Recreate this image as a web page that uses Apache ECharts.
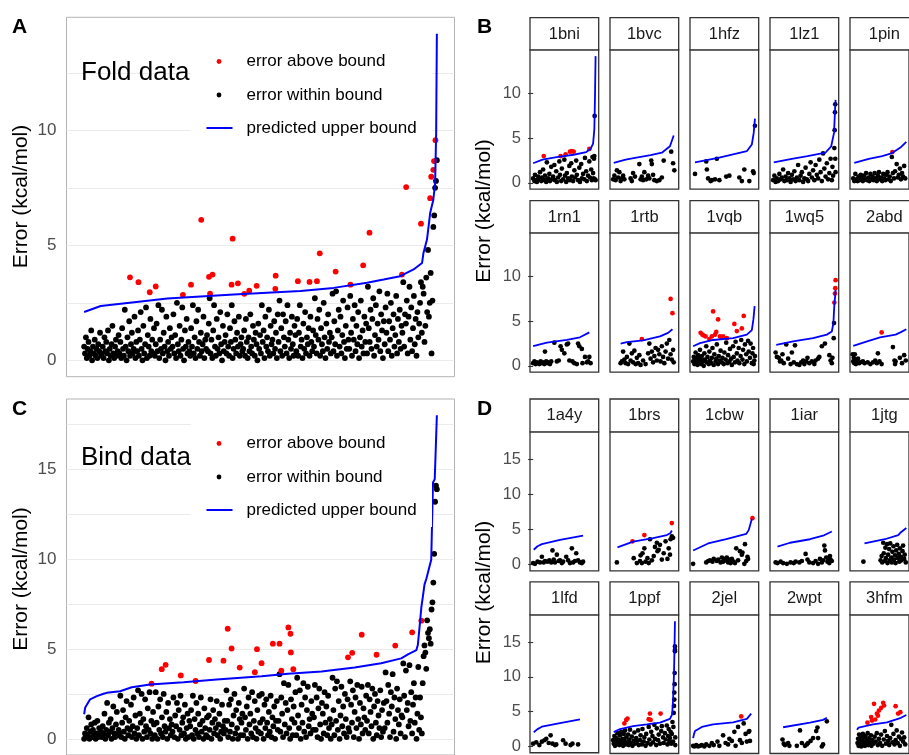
<!DOCTYPE html>
<html>
<head>
<meta charset="utf-8">
<script src="https://cdn.jsdelivr.net/npm/echarts@6/dist/echarts.min.js"></script>
<style>
  html, body { margin: 0; padding: 0; background: #ffffff; }
  #chart { width: 909px; height: 755px; }
</style>
</head>
<body>
<div id="chart"></div>
<script>
// ---------------------------------------------------------------------------
// Data. x = percentile rank of the predicted upper bound (0-100),
// y = absolute error in kcal/mol.
// ---------------------------------------------------------------------------

// Fold data, all proteins: errors within the bound, in rank order
const foldWithin = [
  0.6,0.3,1.0,0.1,0.5,0.8,0.2,0.4,1.3,0.0,0.6,0.3,0.9,0.2,0.5,0.1,0.7,0.4,1.2,0.3,
  0.2,0.6,0.1,1.0,0.4,0.8,0.3,1.3,0.0,0.5,0.2,0.7,1.5,0.3,0.1,0.6,0.9,0.2,0.4,1.1,
  0.3,0.8,0.1,1.4,0.5,0.2,2.2,0.6,0.0,1.0,0.4,1.7,0.2,0.7,1.2,0.3,0.5,1.9,0.1,0.8,
  0.4,1.3,0.2,0.9,2.1,0.5,0.0,1.5,0.3,0.7,2.3,0.1,1.1,0.6,0.2,1.8,0.4,0.9,0.3,1.4,
  0.2,0.7,1.6,0.4,2.4,0.1,0.9,0.5,2.2,0.3,1.2,0.6,0.0,1.9,0.4,0.8,0.2,1.4,0.5,1.0,
  0.6,2.0,0.3,1.1,0.1,2.5,0.7,0.4,1.5,0.2,0.9,2.3,0.5,0.0,1.3,0.6,1.8,0.3,0.8,0.4,
  0.2,1.4,0.6,2.4,0.3,1.0,0.1,1.7,0.5,2.2,0.8,0.2,1.2,0.4,0.7,1.9,0.1,0.9,0.5,1.1,
  0.4,1.6,2.7,0.3,0.9,0.1,1.3,2.4,0.6,0.2,1.8,0.5,1.0,0.3,2.1,0.7,0.0,1.5,0.4,0.8,
  1.1,0.3,2.0,0.6,0.2,1.4,0.8,2.4,0.1,0.5,1.7,0.9,0.3,1.2,0.6,1.9,0.2,0.7,1.0,0.4,
  0.5,1.3,0.2,1.8,0.8,0.1,1.0,0.4,2.0,0.6,0.3,1.5,0.9,0.2,1.2,0.7,0.0,1.6,0.5,1.1,
  0.3,2.4,0.8,1.3,0.1,1.9,0.6,1.0,0.4,2.2,0.2,1.5,0.7,0.9,0.3,1.7,0.5,1.2,0.1,2.0,
  0.8,2.6,0.4,1.4,0.2,2.0,1.0,0.6,1.7,0.3,2.4,0.9,0.1,1.2,0.5,1.9,0.7,0.2,1.5,1.1,
  0.4,1.8,0.2,1.2,2.4,0.6,0.9,0.1,1.6,0.5,2.1,0.3,1.0,0.7,1.4,0.2,1.9,0.8,0.4,1.3,
  0.6,2.7,1.1,0.3,1.8,0.9,2.2,0.2,1.4,0.7,0.4,2.5,1.0,0.1,1.6,0.5,2.0,0.8,1.2,0.3,
  1.0,2.9,0.4,1.7,0.7,3.0,0.2,1.3,2.2,0.6,1.9,0.3,1.1,2.6,0.8,0.1,1.5,0.5,2.3,0.9,
  0.5,2.8,1.2,0.2,1.8,0.9,2.4,0.4,1.5,0.7,2.1,0.1,1.0,2.6,0.6,1.3,0.3,1.9,0.8,1.6,
  0.3,3.2,1.4,0.8,2.2,0.5,1.8,2.7,0.2,1.1,2.4,0.6,1.6,0.9,3.0,0.4,2.0,1.3,0.1,1.7,
  0.7,2.3,1.2,2.9,0.4,1.7,0.9,2.5,0.2,1.4,2.0,0.6,1.1,2.8,0.3,1.8,0.8,2.2,0.5,1.5,
  1.2,3.4,0.6,2.0,1.6,2.6,0.3,1.9,3.2,0.9,2.3,0.4,1.4,2.8,0.7,1.8,0.2,2.1,1.0,1.6,
  2.5,3.4,1.2,3.2,2.9,0.8,1.5,3.6,2.1,4.8,1.9,2.5,3.8,0.3,2.6,5.8,6.3,7.5,7.8,8.7
];
// Fold data: errors above the bound [rank, error]
const foldAbove = [
  [13.0,3.61],[15.4,3.40],[18.6,2.96],[20.3,3.21],[28.0,2.85],[30.3,3.29],[33.2,6.11],
  [35.4,3.63],[35.7,2.90],[36.4,3.73],[41.8,3.29],[42.1,5.29],[43.6,3.35],[45.4,2.89],
  [46.8,3.03],[48.9,3.24],[54.2,3.11],[54.3,3.68],[60.6,3.44],[63.9,3.41],[66.0,3.44],
  [66.8,4.65],[71.3,3.86],[75.5,3.29],[79.1,4.13],[80.9,5.55],[90.1,3.73],[91.3,7.53],
  [95.5,5.94],[98.1,7.05],[98.4,7.98],[99.0,8.28],[99.2,8.66],[99.6,9.57]
];
// Fold data: predicted upper bound [rank, bound]
const foldBound = [
  [0,2.10],[4.7,2.36],[14.2,2.53],[23.6,2.69],[42.4,2.86],[61.3,3.01],[70.7,3.15],
  [80.2,3.37],[84.9,3.51],[89.6,3.66],[93.4,3.95],[95.8,4.23],[96.2,4.67],[97.2,5.25],
  [98.1,6.40],[99.0,6.98],[99.5,7.70],[99.8,9.87],[100,14.2]
];

// Bind data, all complexes: errors within the bound, in rank order
const bindWithin = [
  0.0,0.3,0.1,0.6,0.2,1.2,0.0,0.4,0.8,0.1,0.5,0.2,0.9,0.0,0.3,1.0,0.1,0.6,0.2,0.4,
  0.1,0.7,0.3,1.4,0.0,0.5,2.0,0.2,0.9,0.4,1.1,0.0,0.6,1.8,0.3,0.1,0.8,1.5,0.2,0.5,
  0.3,2.4,0.1,0.9,1.6,0.4,0.0,1.2,2.1,0.6,0.2,1.0,0.5,1.9,0.1,0.7,2.3,0.3,1.3,0.0,
  0.6,2.7,0.2,1.4,0.9,2.5,0.0,1.1,0.4,2.2,0.7,0.1,1.7,0.5,2.6,0.3,1.0,0.0,1.5,0.8,
  0.2,2.6,0.9,0.0,1.8,0.5,2.2,0.3,1.2,0.1,2.5,0.7,0.4,1.5,0.0,2.0,0.6,1.1,0.2,0.8,
  0.4,2.3,0.1,1.3,0.7,2.0,0.0,1.6,0.5,2.4,0.2,0.9,1.2,0.3,1.9,0.0,0.6,1.4,0.1,1.0,
  0.7,1.6,0.2,2.4,0.0,1.1,0.5,2.0,0.3,1.4,0.1,0.8,2.3,0.4,1.0,0.0,1.7,0.6,0.2,1.2,
  0.1,1.3,0.5,2.2,0.0,0.9,1.6,0.3,1.1,0.6,2.1,0.2,0.8,1.4,0.0,0.4,1.9,0.7,0.3,1.0,
  0.5,2.7,1.0,0.1,1.9,0.4,2.2,0.8,0.0,1.3,2.5,0.3,1.6,0.6,0.0,2.0,1.1,0.2,0.9,1.4,
  0.2,2.8,1.2,0.5,1.8,0.0,2.3,0.8,1.4,0.3,2.6,0.1,1.0,2.1,0.6,0.0,1.6,0.4,2.4,0.9,
  0.3,2.5,1.1,0.0,1.9,0.6,2.2,0.9,0.2,1.5,0.4,2.4,0.1,1.2,0.7,1.8,0.0,1.0,2.1,0.5,
  1.0,3.6,0.4,2.3,1.4,0.1,3.1,0.8,2.0,0.3,1.6,3.0,0.6,0.0,2.2,1.1,0.2,1.8,0.9,2.6,
  0.2,3.4,1.3,0.6,2.7,0.0,1.9,0.9,3.1,0.4,2.3,0.1,1.6,2.9,0.7,1.1,0.3,2.1,1.4,0.5,
  1.2,3.0,0.5,2.3,0.1,1.7,2.8,0.8,0.0,2.0,1.4,0.3,2.6,0.9,1.8,0.2,2.4,0.6,1.1,0.0,
  0.8,3.4,1.6,0.2,2.8,1.0,3.2,0.5,2.1,0.0,1.3,2.9,0.7,1.8,0.3,2.5,1.1,0.1,2.2,0.6,
  0.4,3.2,1.9,0.9,2.7,0.1,1.5,2.3,0.6,3.0,1.1,0.0,2.0,0.8,2.9,0.3,1.7,1.2,0.5,2.4,
  1.0,3.0,0.3,2.2,1.5,0.7,2.8,0.0,1.8,2.5,0.9,0.2,2.1,1.3,0.6,2.7,0.1,1.6,0.4,2.0,
  0.6,3.7,2.1,0.9,3.0,1.4,0.1,2.6,1.8,3.6,0.4,2.3,1.1,0.0,2.8,1.6,0.8,2.2,0.3,1.3,
  1.2,4.2,2.4,0.1,3.8,1.6,2.0,0.7,4.1,1.0,2.6,0.3,1.9,3.1,0.9,2.3,0.0,1.4,4.0,0.5,
  2.3,1.2,0.3,3.1,4.6,5.2,4.8,3.9,6.6,5.9,5.6,6.1,5.3,7.2,7.6,8.7,10.3,13.2,14.1,13.9
];
// Bind data: errors above the bound [rank, error]
const bindAbove = [
  [19.1,3.07],[22.0,3.88],[23.1,4.12],[27.4,3.53],[31.6,3.22],[35.4,4.39],[39.5,4.35],
  [40.7,6.13],[41.8,5.03],[44.1,3.97],[48.4,3.71],[49.0,4.99],[50.3,4.21],[53.5,5.30],
  [55.4,5.30],[55.9,3.79],[57.9,6.20],[58.5,5.85],[58.6,4.81],[59.3,3.88],[74.8,4.54],
  [76.0,4.79],[78.7,5.80],[82.9,4.68],[88.2,5.19],[93.0,5.93],[95.6,6.58]
];
// Bind data: predicted upper bound [rank, bound]
const bindBound = [
  [0,1.37],[0.3,1.74],[1.7,2.20],[3.6,2.38],[5.5,2.51],[6.4,2.56],[10.2,2.65],[13.5,2.87],
  [18.7,3.02],[28.2,3.15],[37.6,3.30],[50.3,3.48],[57.8,3.63],[67.3,3.75],[76.7,3.97],
  [84.2,4.21],[89.9,4.48],[91.8,4.70],[94.2,4.94],[94.6,5.22],[95.1,6.23],[95.6,7.32],
  [96.0,7.87],[96.5,8.6],[97.0,8.9],[98.4,9.97],[98.9,14.27],[99.4,14.45],[100,18.02]
];

// Per-protein fold panels
const foldIds = ['1bni','1bvc','1hfz','1lz1','1pin','1rn1','1rtb','1vqb','1wq5','2abd'];
const foldFacetWithin = [
  [[0,0.5],[2,0.2],[3,0.9],[5,0.3],[6,0.1],[8,0.7],[10,0.4],[11,1.2],[13,0.2],[14,0.6],[16,1.5],[18,0.3],[19,0.8],[21,0.1],[22,2.3],[24,0.5],[26,1.0],[27,0.2],[29,1.8],[30,0.4],[32,0.7],[34,2.0],[35,0.3],[37,1.3],[38,0.1],[40,0.6],[42,2.4],[43,0.9],[45,0.2],[46,1.6],[48,0.4],[50,2.6],[51,0.8],[53,0.1],[54,1.1],[56,0.5],[58,1.9],[59,0.3],[61,2.2],[62,0.7],[64,0.2],[66,1.4],[67,0.6],[69,2.5],[70,0.9],[72,0.3],[74,1.7],[75,0.1],[77,2.1],[78,0.5],[80,1.0],[82,0.4],[83,2.8],[85,1.3],[86,0.2],[88,0.8],[90,2.4],[91,0.6],[93,1.5],[94,0.3],[95,2.9],[96,1.1],[97,0.5],[97.5,2.7],[98,3.0],[98.5,7.5],[99,0.4],[100,0.3]],
  [[0,0.4],[2,0.8],[4,0.3],[6,1.4],[8,0.6],[10,1.2],[12,0.2],[14,0.5],[16,0.8],[18,0.4],[28,0.5],[30,0.2],[32,1.1],[35,0.7],[42,2.1],[44,0.4],[46,0.7],[48,0.3],[50,1.2],[53,0.4],[56,0.8],[58,0.5],[61,2.5],[62,2.1],[64,0.9],[66,0.3],[70,0.2],[74,0.3],[78,0.6],[81,2.5],[93,3.5],[96,2.2],[98,1.4]],
  [[3,1.0],[21,2.4],[22,1.5],[24,0.5],[28,0.2],[30,0.3],[35,0.4],[38,2.7],[42,0.3],[53,0.7],[58,0.8],[74,0.6],[78,0.2],[82,1.5],[90,0.2],[96,1.3],[97,1.1],[99,6.4]],
  [[0,0.3],[2,0.8],[4,0.1],[6,0.5],[8,0.2],[10,1.0],[12,0.4],[14,0.6],[16,1.5],[18,0.2],[20,0.7],[22,0.3],[24,1.1],[26,0.5],[28,0.1],[30,0.9],[32,0.4],[34,1.3],[36,0.2],[38,0.6],[40,2.0],[42,0.3],[44,0.8],[46,1.2],[48,0.1],[50,0.5],[52,1.7],[54,0.4],[56,0.2],[58,1.0],[60,2.3],[62,0.6],[64,1.4],[66,0.3],[68,2.0],[70,0.9],[72,0.5],[74,2.6],[76,1.2],[78,0.2],[80,3.3],[82,1.6],[84,0.7],[86,2.2],[88,0.4],[90,1.1],[92,2.7],[94,0.3],[95,1.8],[96,0.8],[98,3.9],[98.5,5.9],[99,7.9],[99.5,8.8],[99.5,2.7],[100,1.2]],
  [[1,0.5],[3,0.2],[5,1.0],[7,0.4],[9,0.2],[11,0.7],[13,0.3],[15,0.9],[17,0.5],[19,0.2],[21,0.8],[23,0.4],[25,1.1],[27,0.3],[29,0.6],[31,0.2],[33,1.0],[35,0.4],[37,0.7],[39,0.3],[41,1.1],[43,0.5],[45,0.2],[47,0.8],[49,1.2],[51,0.4],[53,0.6],[55,0.2],[57,1.0],[59,0.5],[61,0.3],[63,0.9],[65,1.2],[67,0.4],[69,0.7],[71,0.2],[73,2.9],[75,1.1],[77,0.5],[79,1.3],[82,2.1],[84,0.6],[86,0.9],[88,1.6],[90,0.4],[92,1.1],[94,0.7],[96,1.9],[98,0.5]],
  [[0,0.3],[2,0.5],[4,0.2],[6,0.4],[8,0.3],[10,0.2],[12,0.5],[14,0.3],[16,0.4],[18,0.2],[19,1.6],[21,0.5],[23,0.3],[25,0.4],[27,0.2],[29,0.5],[34,2.6],[38,0.5],[41,0.6],[44,2.2],[46,1.8],[50,1.4],[54,2.4],[56,2.5],[58,0.6],[63,0.5],[66,0.3],[70,0.2],[72,2.5],[74,2.2],[78,1.9],[79,0.3],[83,1.0],[86,0.4],[88,0.5],[90,1.0],[92,0.3]],
  [[12,0.3],[14,0.5],[16,1.6],[18,0.7],[20,0.3],[22,1.0],[24,0.2],[26,2.5],[28,0.6],[30,1.4],[32,0.4],[34,1.7],[36,0.2],[38,0.9],[40,0.3],[42,1.2],[44,0.1],[48,0.6],[52,0.2],[56,1.4],[58,2.5],[60,0.8],[62,1.6],[64,0.4],[66,1.1],[68,2.0],[70,0.6],[72,1.8],[74,1.3],[76,0.5],[78,2.2],[80,1.0],[82,0.3],[84,1.6],[86,2.5],[88,0.8],[90,2.9],[92,1.3],[94,0.7],[96,1.8],[97,0.4]],
  [[0,0.5],[1,1.0],[2,0.2],[3,0.7],[4,1.5],[5,0.3],[6,0.9],[7,0.1],[8,1.2],[9,0.6],[10,0.3],[11,1.8],[12,0.8],[13,0.2],[14,1.1],[16,0.5],[17,0.0],[18,1.4],[19,0.7],[21,2.2],[22,0.4],[23,1.0],[25,0.2],[26,1.6],[27,0.6],[29,0.3],[30,0.9],[31,2.0],[33,0.1],[34,1.3],[36,0.5],[37,0.8],[38,2.4],[40,0.2],[41,1.1],[43,0.6],[44,1.7],[46,0.4],[47,0.9],[49,0.2],[50,1.5],[52,0.7],[53,2.6],[55,0.3],[56,1.2],[58,0.5],[59,1.9],[61,0.8],[62,0.1],[64,2.2],[65,1.0],[67,0.4],[68,2.7],[70,1.4],[71,0.6],[73,2.0],[74,0.3],[76,1.1],[77,2.9],[79,0.7],[80,1.8],[82,0.2],[83,2.4],[85,1.3],[86,0.5],[88,2.8],[89,1.6],[91,0.9],[92,2.5],[94,0.3],[95,1.4],[96,2.0],[97,0.2],[98,0.6],[99,1.1]],
  [[4,1.5],[6,1.0],[9,0.9],[11,0.5],[13,0.6],[15,1.3],[17,0.3],[21,2.4],[24,0.8],[28,0.2],[30,1.5],[33,0.4],[35,2.3],[38,0.2],[42,0.1],[45,0.4],[48,0.6],[50,0.2],[53,0.5],[55,0.9],[58,0.3],[62,0.5],[66,0.2],[68,0.6],[72,0.8],[74,1.0],[78,2.2],[83,2.5],[90,1.2],[92,0.6],[94,0.3],[95,0.9],[97,3.1],[97.5,4.8]],
  [[0,1.3],[1,0.5],[2,0.9],[3,0.3],[4,1.3],[5,0.6],[6,0.2],[8,0.5],[10,0.8],[12,0.3],[14,0.4],[19,0.5],[22,0.3],[28,0.4],[33,0.2],[38,0.4],[42,0.6],[45,0.3],[47,1.4],[50,0.5],[54,0.2],[75,2.1],[78,0.6],[79,0.2],[80,0.5],[88,0.9],[92,0.3],[96,1.2],[99,0.6]]
];
const foldFacetAbove = [
  [[17,3.0],[44,3.0],[52,3.2],[59,3.5],[62,3.55],[65,3.5],[90,3.8]],
  [],
  [],
  [],
  [[74,3.45]],
  [],
  [[46,3.0],[92,7.5],[95,5.9]],
  [[12,3.7],[15,3.5],[17,3.4],[20,3.3],[26,3.0],[30,3.3],[32,6.1],[35,3.5],[37,3.8],[40,5.2],[43,3.3],[46,3.2],[48,3.3],[54,3.1],[66,4.7],[70,3.9],[78,4.2],[81,5.6]],
  [[98,7.1],[99,8.1],[99.5,8.7],[100,9.6]],
  [[54,3.75]]
];
const foldFacetBound = [
  [[0,2.2],[15,2.6],[40,2.9],[65,3.15],[85,3.45],[92,3.8],[96,4.4],[98,6.0],[99,9.4],[100,14.2]],
  [[1,2.25],[20,2.6],[35,2.8],[60,3.1],[78,3.38],[91,4.1],[97,5.3]],
  [[3,2.3],[40,2.8],[86,3.55],[94,4.3],[97,5.6],[99,7.2]],
  [[1,2.3],[30,2.7],[55,3.0],[84,3.4],[93,4.1],[97.5,5.6],[99,8.0],[100,9.3]],
  [[3,2.25],[30,2.7],[55,3.0],[72,3.3],[89,3.95],[100,4.6]],
  [[0,2.2],[22,2.6],[54,2.9],[75,3.2],[90,3.75]],
  [[12,2.5],[22,2.65],[48,2.85],[75,3.3],[88,3.7],[95,4.1]],
  [[0,2.2],[11,2.55],[32,2.9],[64,3.1],[86,3.5],[94,4.0],[96.5,5.2],[98.5,6.7]],
  [[5,2.35],[32,2.75],[64,3.1],[86,3.5],[94,3.85],[96.5,4.8],[98,6.8],[99.5,8.0],[100,8.5]],
  [[1,2.25],[27,2.75],[51,3.2],[80,3.5],[89,3.75],[100,4.1]]
];

// Per-complex bind panels
const bindIds = ['1a4y','1brs','1cbw','1iar','1jtg','1lfd','1ppf','2jel','2wpt','3hfm'];
const bindFacetWithin = [
  [[0,0.2],[3,0.1],[7,0.4],[11,0.3],[14,1.1],[17,0.3],[19,0.5],[23,0.4],[26,0.6],[29,0.3],[31,2.0],[33,0.7],[35,0.3],[38,1.4],[41,0.5],[43,0.6],[46,0.2],[48,0.4],[53,1.1],[56,0.6],[59,0.2],[62,2.3],[64,0.3],[67,0.5],[69,1.6],[72,0.6],[75,0.3],[78,0.2],[80,0.4]],
  [[6,0.3],[33,0.9],[38,0.2],[43,0.5],[44,1.3],[46,0.2],[47,1.6],[50,2.3],[52,0.4],[55,0.9],[57,0.2],[59,3.6],[62,0.6],[65,1.2],[67,2.5],[70,3.1],[71,1.9],[73,2.1],[75,2.8],[78,0.7],[81,1.6],[84,3.3],[87,0.8],[89,2.3],[91,1.4],[92,3.6],[94,4.0],[96,3.8]],
  [[0,0.1],[21,0.3],[24,0.5],[27,0.6],[31,0.4],[33,0.8],[38,0.5],[40,0.7],[44,0.3],[46,1.0],[48,0.4],[50,0.8],[52,0.6],[54,1.0],[56,0.3],[58,0.7],[60,0.2],[62,0.8],[65,0.4],[67,0.2],[69,2.3],[72,0.6],[75,1.9],[78,1.4],[79,1.7],[82,0.1],[83,2.9],[85,0.5],[87,1.1],[88,0.8]],
  [[4,0.3],[7,0.2],[12,0.4],[16,0.2],[22,0.1],[28,0.3],[33,0.2],[36,0.4],[42,0.3],[46,0.5],[52,1.5],[55,0.7],[58,0.3],[64,0.2],[68,0.5],[72,0.1],[75,0.8],[78,0.3],[80,0.6],[82,2.7],[83,2.0],[85,1.0],[87,0.4],[88,0.9],[90,0.2],[91,1.2],[92,0.7],[94,0.5]],
  [[20,0.4],[52,0.6],[54,1.2],[55,0.3],[57,3.1],[58,1.6],[60,0.5],[61,2.4],[62,0.9],[64,2.9],[65,0.2],[66,1.4],[68,2.2],[69,0.6],[70,3.0],[72,1.0],[73,0.3],[74,1.8],[76,2.6],[77,0.7],[79,1.3],[80,0.2],[81,2.0],[83,2.8],[84,0.9],[86,1.5],[87,0.4],[88,2.3],[90,1.1],[91,0.6],[93,1.9],[94,2.7],[96,0.8],[97,1.4],[99,0.3]],
  [[0,0.4],[5,0.6],[10,0.2],[14,0.7],[18,0.9],[21,1.1],[25,0.5],[28,1.6],[31,0.4],[35,0.2],[37,0.3],[48,0.9],[52,0.4],[60,0.2],[63,0.4],[72,0.3]],
  [[0,1.0],[1,0.5],[2,1.6],[3,0.2],[4,0.9],[5,1.3],[6,0.4],[7,2.0],[8,0.7],[9,1.1],[10,0.3],[11,1.7],[12,0.8],[13,2.2],[14,0.5],[15,1.2],[16,0.2],[17,1.9],[18,0.9],[19,2.4],[20,0.4],[21,1.4],[22,0.7],[24,1.8],[25,0.3],[26,1.1],[27,2.5],[28,0.6],[30,1.5],[31,0.2],[33,0.9],[34,2.1],[35,0.5],[37,1.3],[38,0.8],[40,2.4],[41,0.3],[43,1.0],[44,1.7],[46,0.4],[47,2.6],[49,0.8],[50,1.4],[52,0.2],[53,1.9],[55,0.6],[57,2.9],[58,1.1],[60,0.4],[61,2.2],[63,1.6],[64,0.7],[66,3.2],[67,1.2],[69,0.3],[70,2.7],[72,1.0],[73,1.8],[75,0.5],[77,2.3],[78,3.0],[80,1.4],[81,0.6],[83,2.0],[84,1.1],[86,3.1],[87,0.4],[88,1.6],[89,2.6],[90,0.9],[91,1.3],[92,2.2],[93,0.5],[94,1.9],[95,3.6],[96,0.8],[96.5,2.9],[97,4.9],[97.5,5.9],[98,6.8],[98,7.8],[98.5,9.0],[98.5,10.6],[99,13.7],[99,13.9],[99,14.4],[99.5,1.4],[99.5,0.3]],
  [[0,0.2],[2,0.1],[5,0.3],[8,0.1],[11,0.2],[14,0.3],[18,0.1],[21,0.4],[26,0.2],[30,0.6],[33,0.3],[39,0.8],[42,0.2],[48,1.7],[52,0.6],[56,0.4],[58,1.2],[62,0.9],[66,2.2],[68,0.2],[72,2.9],[75,1.0],[78,0.6],[81,3.4],[84,1.9],[86,0.8],[89,2.2],[90,2.3],[91,0.9]],
  [[15,1.1],[17,0.5],[19,0.3],[24,0.6],[26,0.2],[38,0.2],[43,2.4],[46,0.6],[51,0.2],[54,0.4],[56,0.6],[60,0.9],[64,1.3],[69,2.3],[71,2.8],[72,1.3],[78,0.1],[80,0.4],[86,3.7]],
  [[9,0.6],[10,1.2],[11,0.2],[12,1.8],[13,0.9],[14,0.4],[15,1.5],[16,0.1],[17,1.1],[18,0.6],[19,1.9],[20,0.3],[21,1.4],[22,0.8],[23,0.2],[24,1.6],[25,0.5],[27,1.0],[28,2.0],[29,0.3],[31,1.3],[32,0.7],[34,1.7],[35,0.2],[37,1.0],[39,0.5],[41,1.5],[43,0.8],[45,2.0],[47,0.3],[49,1.2],[51,0.6],[53,1.8],[55,0.2],[58,1.1],[60,2.3],[62,0.5],[64,1.6],[66,0.9],[68,0.3],[70,1.3],[72,3.2],[74,0.7],[76,1.9],[78,0.4],[80,1.0],[82,2.4],[84,0.6],[86,1.5],[88,0.2],[90,1.2],[92,2.1],[94,0.8],[96,1.4],[98,0.4]]
];
const bindFacetAbove = [
  [],
  [[31,3.3],[50,4.2],[94,5.9]],
  [[95,6.6]],
  [],
  [],
  [],
  [[18,3.4],[21,3.9],[23,4.1],[57,4.0],[59,4.8],[60,3.9],[76,4.8]],
  [[77,4.4]],
  [],
  [[27.5,3.5],[34.4,4.3],[36,3.8],[39.8,6.2],[42,3.96],[45.2,4.8],[47,4.5],[48.9,5.24],[53.2,5.62],[56.9,6.34],[58.5,5.96],[80,5.86],[84.7,4.8],[88.9,5.0]]
];
const bindFacetBound = [
  [[1,2.1],[7,2.6],[14,2.9],[43,3.5],[80,4.1]],
  [[7,2.45],[32,3.25],[64,3.75],[86,4.2],[92,4.5],[94,4.85]],
  [[0,2.0],[24,3.0],[53,3.6],[85,4.35],[89,4.9],[94,6.5]],
  [[7,2.55],[27,3.1],[59,3.6],[80,4.1],[94,4.7]],
  [[22,3.0],[60,3.6],[85,4.2],[90,4.6],[100,5.2]],
  [[1,2.05],[7,2.5],[14,2.85],[43,3.35],[75,3.9]],
  [[1,2.15],[11,2.6],[32,3.0],[54,3.25],[75,3.5],[91,4.05],[94.5,4.7],[96,6.8],[97.5,10.6],[99,18]],
  [[0,1.3],[1.5,1.9],[3,2.3],[14,2.9],[32,3.25],[64,3.55],[86,4.05],[93,4.8]],
  [[16,2.85],[59,3.5],[80,3.9],[86,4.2]],
  [[8,2.5],[11,2.8],[38,3.25],[64,3.55],[90,4.2],[100,4.6]]
];

// Axis breaks
const foldRange = [-0.71, 14.91];
const bindRange = [-0.9, 18.92];
const foldLabels = [0, 5, 10];
const bindLabels = [0, 5, 10, 15];
const foldGridLines = [0, 2.5, 5, 7.5, 10, 12.5];
const bindGridLines = [0, 2.5, 5, 7.5, 10, 12.5, 15, 17.5];

// ---------------------------------------------------------------------------
// Layout and drawing
// ---------------------------------------------------------------------------
const FONT = '"Liberation Sans", Arial, Helvetica, sans-serif';
const RED = '#FF0000', BLACK = '#000000', BLUE = '#0000FF';

const grids = [], xAxes = [], yAxes = [], series = [], graphic = [];

function addPanel(p) {
  const gi = grids.length;
  grids.push({
    left: p.left, top: p.top, width: p.width, height: p.height,
    show: true, borderColor: p.border, borderWidth: p.borderWidth,
    backgroundColor: 'rgba(0,0,0,0)'
  });
  xAxes.push({ type: 'value', gridIndex: gi, min: -5, max: 105, show: false });
  yAxes.push({
    type: 'value', gridIndex: gi, min: p.range[0], max: p.range[1],
    axisLine: { show: false },
    axisTick: { show: p.ticks, length: 5, inside: false,
      lineStyle: { color: '#333333', width: 1.1 }, customValues: p.tickValues },
    axisLabel: { show: p.labels, customValues: p.labelValues, fontSize: p.labelSize,
      color: '#4D4D4D', margin: p.labelMargin, fontFamily: FONT },
    splitLine: { show: p.gridLines, lineStyle: { color: '#EBEBEB', width: 1 } }
  });
  series.push({
    type: 'scatter', xAxisIndex: gi, yAxisIndex: gi, data: p.within,
    symbol: 'circle', symbolSize: p.dot, itemStyle: { color: BLACK, opacity: 1 },
    silent: true, z: 2
  });
  series.push({
    type: 'scatter', xAxisIndex: gi, yAxisIndex: gi, data: p.above,
    symbol: 'circle', symbolSize: p.dot, itemStyle: { color: RED, opacity: 1 },
    silent: true, z: 3
  });
  series.push({
    type: 'line', xAxisIndex: gi, yAxisIndex: gi, data: p.bound,
    showSymbol: false, symbol: 'none', lineStyle: { color: BLUE, width: p.lineWidth },
    silent: true, z: 4
  });
}

const rankPairs = vals => vals.map((v, i) => [i * 100 / (vals.length - 1), v]);

// Large panels A and C
function bigPanel(top, height, range, within, above, bound, gridVals, labelVals) {
  addPanel({
    left: 66.5, top: top, width: 388, height: height, range: range,
    border: '#B3B3B3', borderWidth: 1,
    ticks: false, tickValues: gridVals, labels: true, labelValues: labelVals,
    labelSize: 17, labelMargin: 10, gridLines: true,
    within: rankPairs(within), above: above, bound: bound, dot: 5.8, lineWidth: 2
  });
}
bigPanel(17.3, 359.4, foldRange, foldWithin, foldAbove, foldBound, foldGridLines, foldLabels);
bigPanel(399, 360.7, bindRange, bindWithin, bindAbove, bindBound, bindGridLines, bindLabels);

// Faceted panels B and D
function facets(ids, within, above, bound, rows, range, labelVals) {
  ids.forEach((id, k) => {
    const row = rows[Math.floor(k / 5)];
    const col = k % 5;
    const left = 530 + 80 * col;
    const w = 68.7;
    addPanel({
      left: left, top: row.top, width: w, height: row.bottom - row.top, range: range,
      border: '#333333', borderWidth: 1.3,
      ticks: col === 0, tickValues: labelVals, labels: col === 0, labelValues: labelVals,
      labelSize: 16.5, labelMargin: 9, gridLines: false,
      within: within[k], above: above[k], bound: bound[k], dot: 4.7, lineWidth: 1.8
    });
    graphic.push({
      type: 'rect', z: 20,
      shape: { x: left, y: row.strip, width: w, height: row.top - row.strip },
      style: { fill: '#FFFFFF', stroke: '#333333', lineWidth: 1.3 }
    });
    graphic.push({
      type: 'text', z: 21, x: left + w / 2, y: (row.strip + row.top) / 2 + 0.5,
      style: { text: id, fill: '#1A1A1A', font: '16.5px ' + FONT,
        textAlign: 'center', textVerticalAlign: 'middle' }
    });
  });
}
facets(foldIds, foldFacetWithin, foldFacetAbove, foldFacetBound,
  [{ strip: 17.7, top: 49.8, bottom: 189.2 }, { strip: 200.7, top: 232.8, bottom: 372.2 }],
  foldRange, foldLabels);
facets(bindIds, bindFacetWithin, bindFacetAbove, bindFacetBound,
  [{ strip: 399, top: 431.8, bottom: 570.8 }, { strip: 581.8, top: 614.8, bottom: 753.5 }],
  bindRange, bindLabels);

// Panel letters
[['A', 12, 27.5], ['B', 477, 27.5], ['C', 12, 409], ['D', 477, 409]].forEach(([t, x, y]) => {
  graphic.push({ type: 'text', z: 30, x: x, y: y,
    style: { text: t, fill: '#000000', font: 'bold 21px ' + FONT,
      textAlign: 'left', textVerticalAlign: 'middle' } });
});

// Axis titles
[[21, 196.5], [484, 211], [21, 579], [484, 592.5]].forEach(([x, y]) => {
  graphic.push({ type: 'text', z: 30, x: x, y: y, rotation: Math.PI / 2,
    style: { text: 'Error (kcal/mol)', fill: '#000000', font: '21px ' + FONT,
      textAlign: 'center', textVerticalAlign: 'middle' } });
});

// Dataset names and in-panel legends
function panelLegend(name, nameY, y1, y2, y3, boxTop) {
  graphic.push({ type: 'text', z: 10, x: 81, y: nameY,
    style: { text: name, fill: '#000000', font: '26px ' + FONT,
      textAlign: 'left', textVerticalAlign: 'middle' } });
  graphic.push({ type: 'rect', z: 11,
    shape: { x: 191, y: boxTop, width: 241, height: 106 },
    style: { fill: '#FFFFFF', stroke: null } });
  graphic.push({ type: 'circle', z: 12, shape: { cx: 219, cy: y1, r: 2.4 }, style: { fill: RED } });
  graphic.push({ type: 'circle', z: 12, shape: { cx: 219, cy: y2, r: 2.4 }, style: { fill: BLACK } });
  graphic.push({ type: 'line', z: 12, shape: { x1: 206.5, y1: y3, x2: 232.5, y2: y3 },
    style: { stroke: BLUE, lineWidth: 2 } });
  [['error above bound', y1], ['error within bound', y2], ['predicted upper bound', y3]].forEach(([t, y]) => {
    graphic.push({ type: 'text', z: 12, x: 246.5, y: y,
      style: { text: t, fill: '#000000', font: '17px ' + FONT,
        textAlign: 'left', textVerticalAlign: 'middle' } });
  });
}
panelLegend('Fold data', 73, 61.5, 95, 128, 39);
panelLegend('Bind data', 457.5, 443.5, 477, 510, 421);

const chart = echarts.init(document.getElementById('chart'), null, { renderer: 'canvas' });
chart.setOption({
  animation: false,
  backgroundColor: '#FFFFFF',
  textStyle: { fontFamily: FONT },
  grid: grids,
  xAxis: xAxes,
  yAxis: yAxes,
  series: series,
  graphic: graphic
});
</script>
</body>
</html>
